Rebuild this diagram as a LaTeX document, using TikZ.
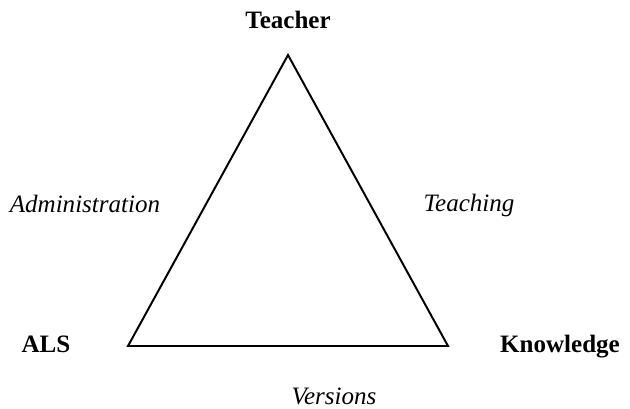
\documentclass[tikz,border=0pt]{standalone}
\usepackage{fontspec}
\setmainfont{Liberation Serif}

\begin{document}
\begin{tikzpicture}[x=0.025cm,y=-0.025cm,line width=1.4pt,font=\fontsize{17.8}{20}\selectfont]
  \tikzstyle{vertex}=[anchor=base,font=\fontsize{17.8}{20}\selectfont\bfseries]
  \tikzstyle{relation}=[anchor=base,font=\fontsize{17.8}{20}\selectfont\itshape]
  \useasboundingbox (0,0) rectangle (630,408);

  \coordinate (t) at (288,55);
  \coordinate (a) at (128,346);
  \coordinate (k) at (448,346);
  \draw[line join=miter] (t) -- (a) -- (k) -- cycle;

  \node[vertex] (T) at (288,28) {Teacher};
  \node[vertex] (A) at (46,352) {ALS};
  \node[vertex] (K) at (560,352) {Knowledge};

  \node[relation] (adm) at (85,212) {Administration};
  \node[relation] (tea) at (469,211) {Teaching};
  \node[relation] (ver) at (334,404) {Versions};

\end{tikzpicture}
\end{document}
